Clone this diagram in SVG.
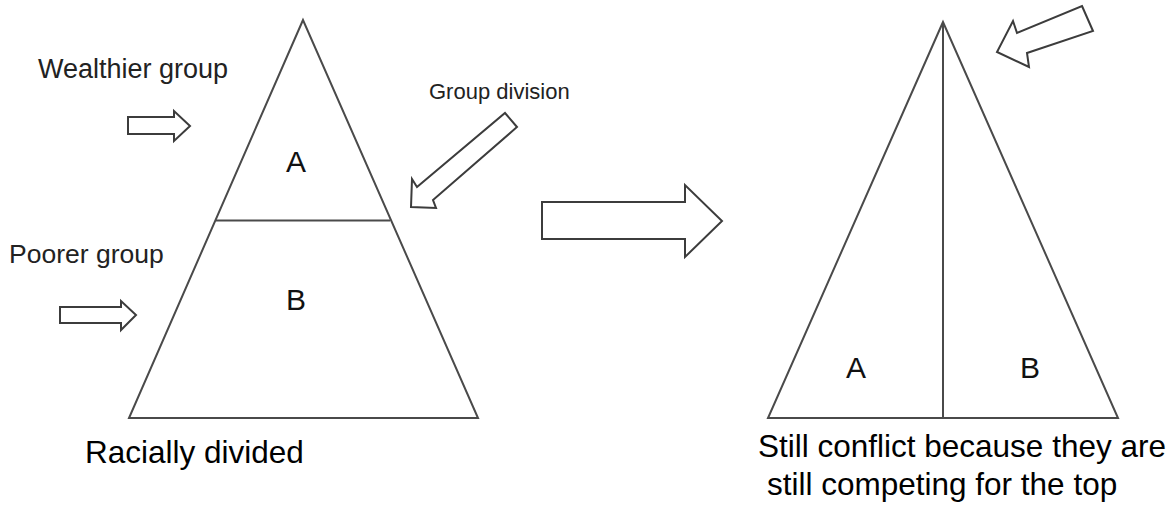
<svg xmlns="http://www.w3.org/2000/svg" width="1176" height="516" viewBox="0 0 1176 516">
<style>
.shape{fill:none;stroke:#4a4a4a;stroke-width:2;stroke-linejoin:miter}
.arrow{fill:#fff;stroke:#3c3c3c;stroke-width:2;stroke-linejoin:miter}
.lbl{font-family:"Liberation Sans",Arial,sans-serif;fill:#222}
.big{font-family:"Liberation Sans",Arial,sans-serif;fill:#000;font-size:31.5px}
.letter{font-family:"Liberation Sans",Arial,sans-serif;fill:#111;font-size:30px;text-anchor:middle}
</style>
<rect width="1176" height="516" fill="#fff"/>
<g id="left-pyramid">
<polygon class="shape" points="303,20 129,418 478,418"/>
<line class="shape" x1="216" y1="220.5" x2="390" y2="220.5"/>
<text class="letter" x="296" y="172">A</text>
<text class="letter" x="296" y="310">B</text>
</g>
<g id="right-pyramid">
<polygon class="shape" points="943,22 768,418 1118,418"/>
<line class="shape" x1="943" y1="22" x2="943" y2="418"/>
<text class="letter" x="856" y="378">A</text>
<text class="letter" x="1030" y="378">B</text>
</g>
<g id="labels">
<text class="lbl" x="38" y="78" font-size="27">Wealthier group</text>
<text class="lbl" x="9" y="263" font-size="26.5">Poorer group</text>
<text class="lbl" x="429" y="99" font-size="22">Group division</text>
<text class="big" x="85" y="463">Racially divided</text>
<text class="big" x="758" y="457">Still conflict because they are</text>
<text class="big" x="767" y="495">still competing for the top</text>
</g>
<g id="connectors">
<polygon class="arrow" points="128,117 174,117 174,111 190,126 174,141 174,134 128,134"/>
<polygon class="arrow" points="60,307 121,307 121,301 136,315 121,330 121,323 60,323"/>
<polygon class="arrow" points="505,113 517,127 433,200 436,208 411,207 412,179 417,187"/>
<polygon class="arrow" points="542,202 685,202 685,185 722,221 685,257 685,239 542,239"/>
<polygon class="arrow" points="1082,6 1093,31 1027,53 1029,67 997,52 1013,21 1017,33"/>
</g>
</svg>
